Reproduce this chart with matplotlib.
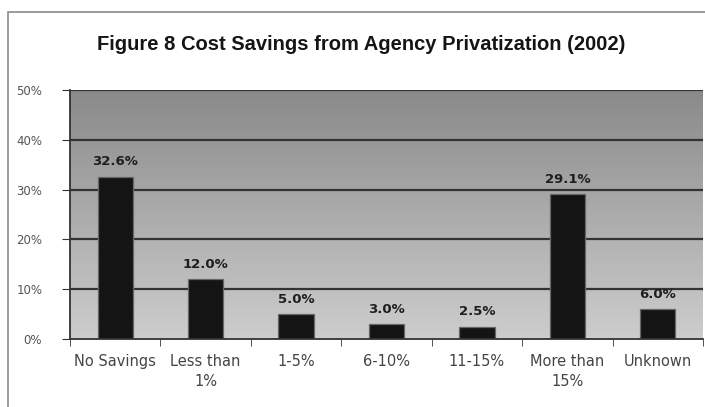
import matplotlib
matplotlib.use("Agg")
import matplotlib.pyplot as plt
import numpy as np
from matplotlib.patches import Rectangle

categories = ["No Savings", "Less than\n1%", "1-5%", "6-10%", "11-15%", "More than\n15%", "Unknown"]
values = [32.6, 12.0, 5.0, 3.0, 2.5, 29.1, 6.0]
value_labels = ["32.6%", "12.0%", "5.0%", "3.0%", "2.5%", "29.1%", "6.0%"]
yticks = [0, 10, 20, 30, 40, 50]
ytick_labels = ["0%", "10%", "20%", "30%", "40%", "50%"]
title = "Figure 8 Cost Savings from Agency Privatization (2002)"

plt.rcParams['font.family'] = ['DejaVu Sans']

fig = plt.figure(figsize=(7.05, 4.07), dpi=100)
fig.patch.set_facecolor('white')
# outer chart frame
fig.add_artist(Rectangle((8/705, -0.05), 1.2, 1 - 12/407 + 0.05, transform=fig.transFigure,
                         fill=False, edgecolor='#8a8a8a', linewidth=1.2))

ax = fig.add_axes([70/705, 1 - 339/407, 633/705, (339 - 90)/407])
n = len(categories)
x = np.arange(n)
ax.set_xlim(-0.5, n - 0.5)
ax.set_ylim(0, 50)

# gradient background
grad = np.linspace(0, 1, 256).reshape(-1, 1)
ax.imshow(grad, extent=(-0.5, n - 0.5, 0, 50), origin='lower', aspect='auto',
          cmap=matplotlib.colors.LinearSegmentedColormap.from_list('g', ['#cdcdcd', '#8a8a8a']),
          zorder=0)

for yv in yticks[1:]:
    ax.axhline(yv, color='#333333', linewidth=1.6, zorder=1)

ax.bar(x, values, width=0.39, color='#141414', edgecolor='#666666', linewidth=0.9, zorder=2)
for xi, v, lab in zip(x, values, value_labels):
    ax.text(xi, v + 1.7, lab, ha='center', va='bottom', fontsize=9.5, fontweight='bold',
            color='#1e1e1e', zorder=3)

ax.set_yticks(yticks)
ax.set_yticklabels(ytick_labels, fontsize=8.5, color='#555555')
ax.set_xticks(x)
ax.set_xticklabels(categories, fontsize=10.5, color='#444444', linespacing=1.4)
ax.set_xticks(np.arange(-0.5, n, 1), minor=True)
ax.tick_params(axis='x', which='major', length=0, pad=11)
ax.tick_params(axis='x', which='minor', length=5, color='#333333', direction='out')
ax.tick_params(axis='y', length=6, color='#333333', direction='out', pad=14)

for s in ['top', 'right']:
    ax.spines[s].set_visible(False)
ax.spines['left'].set_color('#333333')
ax.spines['bottom'].set_color('#333333')
ax.spines['left'].set_linewidth(1.3)
ax.spines['bottom'].set_linewidth(1.3)

fig.text(0.513, 1 - 45/407, title, ha='center', va='center', fontsize=14.5, fontweight='bold',
         color='#151515', family=['Liberation Sans', 'DejaVu Sans'])

fig.savefig('out.png', dpi=100)
